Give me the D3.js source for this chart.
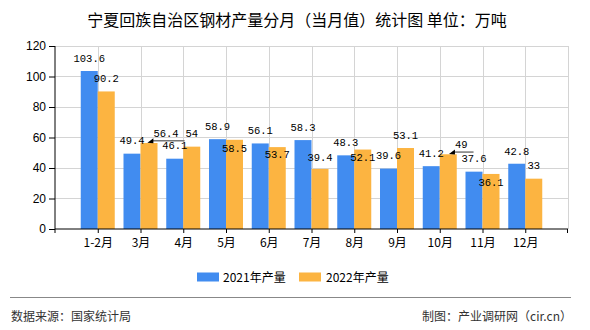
<!DOCTYPE html>
<html><head><meta charset="utf-8">
<script src="https://cdn.jsdelivr.net/npm/d3@7"></script>
<style>body{margin:0;background:#fff;} svg{display:block;}</style>
</head><body><svg id="c" width="590" height="330"></svg>
<script>
const titleText = "宁夏回族自治区钢材产量分月（当月值）统计图 单位：万吨";
const categories = ["1-2月","3月","4月","5月","6月","7月","8月","9月","10月","11月","12月"];
const series2021 = [103.6,49.4,46.1,58.9,56.1,58.3,48.3,39.6,41.2,37.6,42.8];
const series2022 = [90.2,56.4,54,58.5,53.7,39.4,52.1,53.1,49,36.1,33];
const seriesNames = ["2021年产量","2022年产量"];
const yTicks = [0,20,40,60,80,100,120];
const sourceText = "数据来源：国家统计局";
const makerText = "制图：产业调研网（cir.cn）";

// layout / style (label nudges to mimic collision handling of the original)
const colors = ["#418cf0","#fcb441"];
const offs2022 = {1:[17,3,true],3:[0,21],4:[0,20.4],5:[0,1],6:[0,20.7],8:[13,3,true],9:[0,21]};
const L=55,R=568,T=46,B=229,barW=17;

const svg = d3.select("#c");
const cjk = "'Noto Sans CJK SC','Noto Sans',sans-serif";
const mono = "'Liberation Mono','DejaVu Sans Mono',monospace";

svg.append("text").attr("x",297).attr("y",26).attr("text-anchor","middle")
  .attr("font-family",cjk).attr("font-size",16).attr("fill","#000").text(titleText);

const x = d3.scalePoint().domain(categories).range([L,R]).padding(1);
const y = d3.scaleLinear().domain([0,120]).range([B,T]);

// gridlines
const g = svg.append("g");
g.selectAll("line.h").data(yTicks.filter(d=>d>0)).join("line")
  .attr("x1",L).attr("x2",R).attr("y1",d=>y(d)).attr("y2",d=>y(d))
  .attr("stroke","#d4d4d4").attr("stroke-width",1).attr("shape-rendering","crispEdges");
const vx = categories.map(c=>x(c)).concat([R]);
g.selectAll("line.v").data(vx).join("line")
  .attr("x1",d=>Math.round(d)+0.5).attr("x2",d=>Math.round(d)+0.5).attr("y1",T).attr("y2",B)
  .attr("stroke","#d4d4d4").attr("stroke-width",1);

// bars
const sets = [series2021, series2022];
sets.forEach((s,si)=>{
  svg.append("g").selectAll("rect").data(s).join("rect")
    .attr("x",(d,i)=>x(categories[i]) + (si===0?-barW:0))
    .attr("y",d=>y(d)).attr("width",barW).attr("height",d=>B-y(d))
    .attr("fill",colors[si]);
});

// axes
const yAxis = d3.axisLeft(y).tickValues(yTicks).tickSize(6).tickPadding(3);
const ya = svg.append("g").attr("transform",`translate(${L},0)`).call(yAxis);
ya.selectAll("text").attr("font-family","'Liberation Sans',Arial,sans-serif").attr("font-size",12).attr("fill","#000");
ya.selectAll("line,path").attr("stroke","#000");
ya.select(".domain").attr("d",`M0,${T}V${B}`);

const xAxis = d3.axisBottom(x).tickSize(4).tickPadding(5);
const xa = svg.append("g").attr("transform",`translate(0,${B})`).call(xAxis);
xa.select(".domain").attr("d",`M${L},0H${R}`).attr("stroke","#000");
xa.selectAll("line").attr("stroke","#000");
xa.selectAll("text").attr("font-family",cjk).attr("font-size",12).attr("fill","#000");
xa.append("line").attr("x1",L).attr("x2",L).attr("y1",0).attr("y2",4).attr("stroke","#000");
xa.append("line").attr("x1",R-0.5).attr("x2",R-0.5).attr("y1",0).attr("y2",4).attr("stroke","#000");

// value labels
const lab = svg.append("g").attr("font-family",mono).attr("font-size",10.5).attr("fill","#000");
sets.forEach((s,si)=>{
  s.forEach((v,i)=>{
    const cx = x(categories[i]) + (si===0?-barW/2:barW/2);
    const o = si===1 && offs2022[i] ? offs2022[i] : [0,0];
    const tx = cx + o[0], ty = y(v) - 9.2 + o[1];
    lab.append("text").attr("x",tx).attr("y",ty).attr("text-anchor","middle").text(String(v));
    if(o[2]){
      const w = String(v).length*6.3;
      const x0 = tx - w/2 - 6, x1 = tx + w/2 + 6, ly = ty + 4;
      lab.append("line").attr("x1",x0+4).attr("x2",x1).attr("y1",ly).attr("y2",ly)
        .attr("stroke","#777").attr("stroke-width",1.5);
      lab.append("path").attr("d",`M${x0},${ly+2}L${x0+6},${ly-2.5}L${x0+6},${ly+2.5}Z`).attr("fill","#000");
    }
  });
});

// legend
const lg = svg.append("g");
[[197,223],[299,326]].forEach((p,i)=>{
  lg.append("rect").attr("x",p[0]).attr("y",272.5).attr("width",22).attr("height",9).attr("fill",colors[i]);
  lg.append("text").attr("x",p[1]).attr("y",282).attr("font-family",cjk).attr("font-size",12).attr("fill","#000").text(seriesNames[i]);
});

// footer
svg.append("line").attr("x1",10).attr("x2",571).attr("y1",297.5).attr("y2",297.5).attr("stroke","#888").attr("stroke-width",1);
svg.append("text").attr("x",11).attr("y",321).attr("font-family",cjk).attr("font-size",12).attr("fill","#333").text(sourceText);
svg.append("text").attr("x",572).attr("y",321).attr("text-anchor","end").attr("font-family",cjk).attr("font-size",12).attr("fill","#333").text(makerText);
</script></body></html>
